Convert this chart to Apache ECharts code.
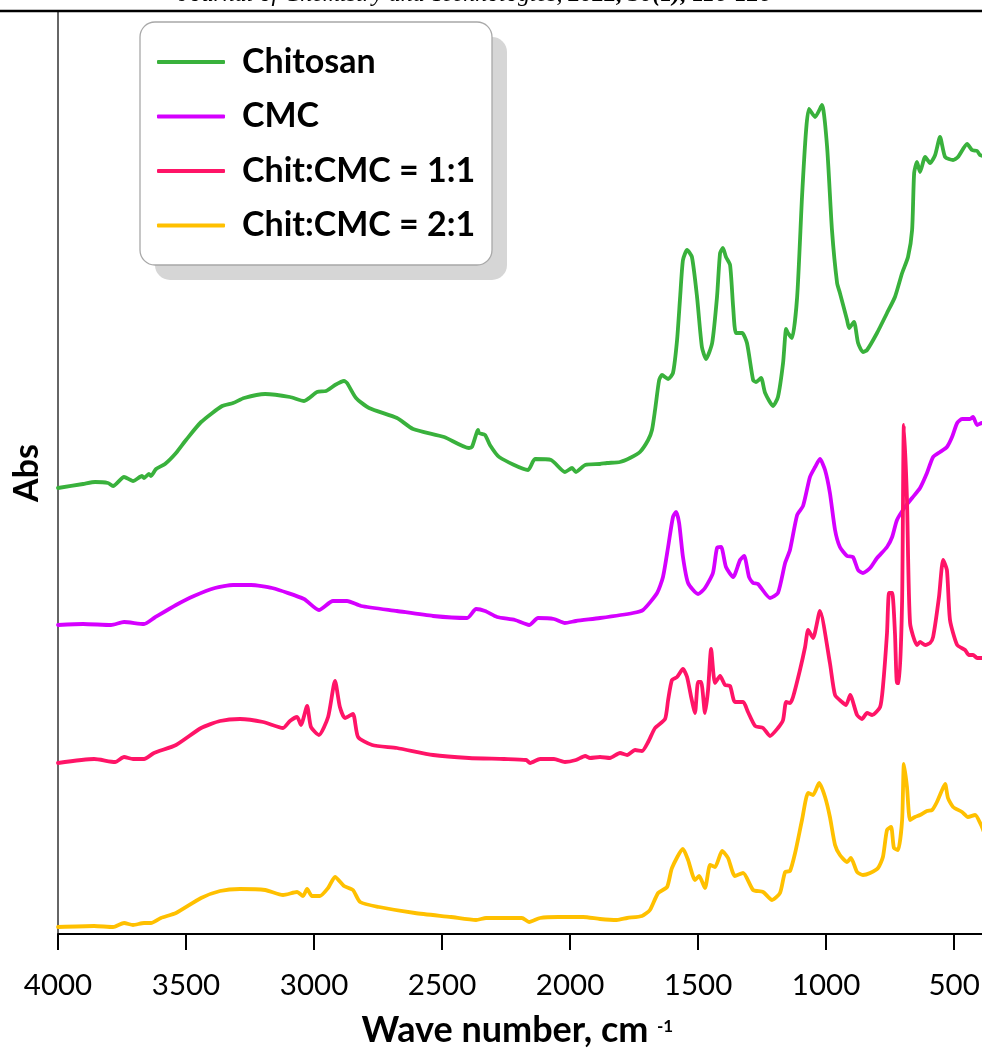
<!DOCTYPE html>
<html><head><meta charset="utf-8">
<script src="https://cdn.jsdelivr.net/npm/echarts@6/dist/echarts.min.js"></script>
<style>html,body{margin:0;padding:0;background:#fff}#c{width:982px;height:1048px}</style>
</head><body><div id="c"></div>
<script>
const xTicks = [4000,3500,3000,2500,2000,1500,1000,500];
const seriesNames = ['Chitosan','CMC','Chit:CMC = 1:1','Chit:CMC = 2:1'];
const seriesColors = ['#39b13c','#d500ff','#ff1467','#ffc000'];

const chitosanWn = [4000,3902,3855,3805,3785,3742,3707,3672,3664,3645,3637,3617,3582,3539,3500,3441,3359,3316,3273,3191,3094,3039,2988,2953,2918,2883,2871,2836,2785,2676,2613,2492,2395,2383,2359,2356,2332,2313,2277,2164,2137,2074,2020,1992,1977,1941,1883,1856,1805,1766,1727,1695,1680,1668,1652,1641,1617,1598,1582,1570,1559,1543,1524,1504,1485,1469,1445,1426,1414,1403,1391,1375,1363,1352,1328,1309,1285,1274,1254,1238,1207,1188,1168,1156,1149,1133,1113,1094,1078,1067,1043,1016,996,977,957,946,918,910,891,875,856,840,801,762,731,703,680,664,656,645,633,613,594,574,555,535,504,485,449,430,410,399,385];
const chitosanAbs = [44.6,45.0,45.2,45.1,44.8,45.7,45.3,45.8,45.6,46.0,45.8,46.5,47.0,48.1,49.4,51.2,52.8,53.1,53.6,54.0,53.7,53.3,54.2,54.3,54.9,55.3,55.1,53.6,52.6,51.6,50.5,49.7,48.6,48.7,50.4,50.1,49.9,48.9,47.7,46.4,47.5,47.4,46.2,46.6,46.2,46.9,47.0,47.1,47.2,47.6,48.2,49.4,50.4,52.4,55.4,55.9,55.5,56.1,59.4,63.7,67.4,68.4,67.7,63.7,58.7,57.5,59.1,63.7,68.1,68.6,67.7,66.9,62.7,60.1,60.1,59.1,55.4,55.2,55.6,54.1,52.8,53.7,57.1,60.5,60.1,59.6,63.7,73.7,80.4,82.5,81.7,82.9,78.7,70.4,65.1,64.1,61.4,60.6,61.2,59.1,58.2,58.4,60.1,62.1,63.7,66.1,67.7,70.4,76.1,77.2,76.2,77.7,77.1,77.9,79.7,77.7,77.4,77.7,79.0,78.4,78.3,77.9,77.8];

const cmcWn = [4000,3902,3793,3742,3664,3625,3539,3469,3387,3316,3246,3164,3039,2981,2926,2871,2816,2676,2535,2402,2367,2332,2285,2215,2160,2125,2063,2020,1977,1883,1754,1715,1660,1637,1617,1598,1586,1574,1559,1539,1500,1473,1442,1426,1410,1391,1363,1336,1320,1301,1285,1266,1219,1188,1160,1141,1113,1090,1063,1043,1024,1004,985,965,946,918,895,875,856,828,801,762,742,723,692,664,633,606,582,555,528,508,488,469,438,426,410,391,385];
const cmcAbs = [30.9,31.0,30.9,31.2,31.0,31.6,32.9,33.8,34.6,34.9,34.9,34.6,33.5,32.4,33.3,33.3,32.8,32.3,31.8,31.6,32.5,32.3,31.7,31.4,30.9,31.6,31.5,31.1,31.3,31.6,32.1,32.4,34.1,35.7,38.7,41.7,42.2,41.1,37.7,35.1,34.0,34.6,36.1,38.6,38.7,36.7,35.7,37.4,37.8,35.7,35.1,35.0,33.6,34.1,37.1,38.4,41.9,42.8,45.7,46.7,47.5,46.4,44.1,40.4,38.7,37.8,37.7,36.4,36.1,36.6,37.6,38.7,39.7,41.4,42.7,43.6,44.6,46.1,47.7,48.2,48.7,49.7,51.1,51.5,51.5,51.7,50.9,51.1,51.1];

const mix11Wn = [4000,3859,3777,3742,3707,3664,3625,3539,3441,3367,3289,3199,3121,3094,3066,3051,3027,3012,2981,2945,2918,2899,2879,2848,2828,2773,2676,2535,2395,2258,2172,2156,2117,2063,2020,1977,1941,1922,1883,1844,1805,1777,1746,1719,1695,1668,1629,1617,1602,1582,1559,1543,1527,1512,1500,1488,1473,1461,1449,1434,1414,1395,1375,1356,1324,1305,1277,1246,1219,1188,1168,1156,1141,1129,1102,1082,1070,1051,1024,985,965,938,922,906,879,860,840,820,789,778,762,754,742,731,723,715,703,696,684,672,645,633,613,594,582,559,543,528,516,488,457,442,426,410,391,385];
const mix11Abs = [17.1,17.5,17.2,17.7,17.5,17.5,18.1,18.9,20.6,21.3,21.5,21.2,20.6,21.3,21.7,20.9,22.8,20.7,19.9,21.7,25.3,22.7,21.6,22.0,19.7,18.9,18.6,17.9,17.6,17.5,17.4,17.1,17.5,17.5,17.2,17.4,17.8,17.6,17.7,17.6,18.1,17.9,18.4,18.3,19.2,20.6,21.5,23.4,25.4,25.7,26.5,25.7,23.7,22.1,25.2,25.2,22.1,24.4,28.5,25.1,25.8,24.9,24.8,23.2,23.2,22.2,20.8,20.6,19.8,20.6,21.4,23.2,23.1,23.7,26.4,28.7,30.4,29.6,32.3,27.1,23.9,23.2,22.9,23.9,21.9,21.5,22.1,21.9,22.7,24.7,30.1,34.1,34.1,30.1,25.1,25.1,33.4,50.9,43.4,31.1,28.9,29.2,28.9,29.1,29.7,33.7,37.4,36.4,31.4,28.9,28.4,27.9,27.9,27.6,27.6,27.6];

const mix21Wn = [4000,3859,3785,3742,3707,3664,3637,3598,3539,3441,3367,3289,3191,3121,3066,3043,3027,3008,2977,2945,2918,2883,2848,2820,2746,2606,2465,2367,2328,2188,2160,2117,2047,1949,1883,1817,1777,1719,1688,1656,1621,1602,1559,1539,1512,1496,1473,1453,1434,1406,1383,1356,1324,1285,1246,1211,1180,1160,1141,1121,1094,1070,1051,1027,1004,985,965,946,918,903,879,856,828,797,778,762,746,735,719,703,696,684,672,653,633,606,586,567,547,535,524,504,469,446,418,391,385];
const mix21Abs = [0.7,0.8,0.7,1.1,0.9,1.1,1.1,1.6,2.1,3.6,4.3,4.5,4.4,3.9,4.2,3.8,4.5,3.8,3.8,4.6,5.7,4.8,4.4,3.2,2.7,2.1,1.7,1.4,1.6,1.6,1.2,1.6,1.7,1.7,1.5,1.4,1.6,1.8,2.4,4.1,4.7,6.6,8.5,7.4,5.4,5.8,4.6,6.9,6.7,8.3,7.6,5.8,6.1,4.4,4.2,3.4,4.1,6.2,6.3,8.1,11.4,14.1,13.9,15.1,13.7,11.7,8.9,7.9,7.2,7.6,6.2,5.9,6.1,6.6,7.7,10.4,10.7,8.6,8.4,11.4,17.0,14.7,11.4,11.7,11.9,12.3,12.4,13.2,14.4,15.0,13.6,12.7,12.2,11.7,11.9,10.7,10.3];

const allWn = [chitosanWn, cmcWn, mix11Wn, mix21Wn];
const allAbs = [chitosanAbs, cmcAbs, mix11Abs, mix21Abs];

function pairs(w, a) { return w.map((x, i) => [x, a[i]]); }

const chart = echarts.init(document.getElementById('c'), null, {renderer: 'canvas'});
const series = seriesNames.map((n, k) => ({
  name: n, type: 'line', data: pairs(allWn[k], allAbs[k]),
  showSymbol: false, symbol: 'none', smooth: 0.2, clip: true,
  lineStyle: {width: 3.8, color: seriesColors[k], cap: 'round', join: 'round'},
  itemStyle: {color: seriesColors[k]}
}));

chart.setOption({
  animation: false,
  backgroundColor: '#fff',
  grid: {left: 58, right: 0, top: 11, bottom: 114, containLabel: false, outerBoundsMode: 'none'},
  xAxis: {
    type: 'value', inverse: true, min: 391, max: 4000,
    axisLine: {show: true, onZero: false, lineStyle: {color: '#000', width: 2}},
    axisTick: {show: true, length: 16, customValues: xTicks, lineStyle: {color: '#000', width: 2}},
    axisLabel: {customValues: xTicks, margin: 36, fontFamily: 'Lato', fontSize: 29.5, color: '#000',
      formatter: v => String(v)},
    splitLine: {show: false}
  },
  yAxis: {
    type: 'value', min: 0, max: 92.3,
    axisLine: {show: true, onZero: false, lineStyle: {color: '#333', width: 1.5}},
    axisTick: {show: false}, axisLabel: {show: false}, splitLine: {show: false}
  },
  legend: {
    orient: 'vertical', left: 157, top: 42, padding: 0, itemGap: 14.5,
    itemWidth: 68, itemHeight: 4, icon: 'roundRect',
    textStyle: {fontFamily: 'Lato', fontWeight: 'bold', fontSize: 34, color: '#000', lineHeight: 40, padding: [0, 0, 0, 12]},
    data: seriesNames
  },
  graphic: [
    {type: 'line', z: 10, shape: {x1: 0, y1: 11, x2: 982, y2: 11}, style: {stroke: '#000', lineWidth: 2.5}},
    {type: 'text', x: 475, y: -5, style: {
      text: '{i|Journal of Chemistry and Technologies, }{b|2022, 30(1), 116-126}',
      align: 'center', verticalAlign: 'middle',
      rich: {
        i: {fontFamily: 'Liberation Serif', fontStyle: 'italic', fontSize: 24, fill: '#000'},
        b: {fontFamily: 'Liberation Serif', fontStyle: 'italic', fontWeight: 'bold', fontSize: 24, fill: '#000'}
      }}},
    {type: 'rect', shape: {x: 155, y: 37, width: 352, height: 243, r: 15}, style: {fill: '#d6d6d6'}},
    {type: 'rect', shape: {x: 140, y: 22, width: 352, height: 243, r: 15}, style: {fill: '#fff', stroke: '#a8a8a8', lineWidth: 1.3}},
    {type: 'text', x: 27, y: 473, rotation: Math.PI / 2, style: {
      text: 'Abs', fontFamily: 'Lato', fontWeight: 'bold', fontSize: 34, fill: '#000', align: 'center', verticalAlign: 'middle'}},
    {type: 'text', x: 505, y: 1030, style: {
      text: 'Wave number, cm', fontFamily: 'Lato', fontWeight: 'bold', fontSize: 36, fill: '#000',
      align: 'center', verticalAlign: 'middle'}},
    {type: 'text', x: 665, y: 1027, style: {
      text: '-1', fontFamily: 'Lato', fontWeight: 'bold', fontSize: 17, fill: '#000',
      align: 'center', verticalAlign: 'middle'}}
  ],
  series: series
});
</script>
</body></html>
